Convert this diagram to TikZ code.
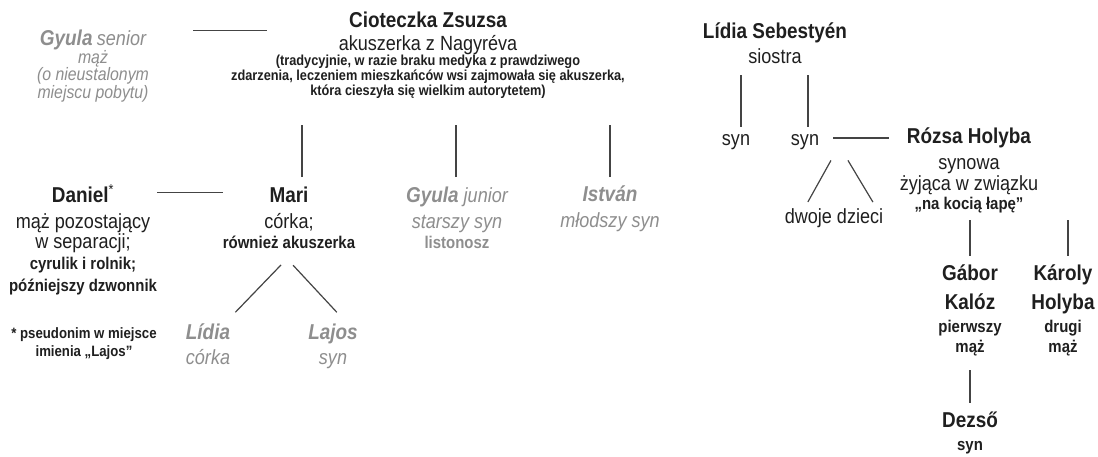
\documentclass[tikz,border=0pt]{standalone}
\usepackage{fontspec}
\setmainfont{Liberation Sans}[FakeStretch=0.88]
\usetikzlibrary{calc}

\definecolor{ink}{HTML}{1F1F1F}
\definecolor{faded}{HTML}{8E8E8E}
\definecolor{wire}{HTML}{444444}

\newcommand{\who}[1]{{\bfseries\fontsize{21.5}{22}\selectfont #1}}
\newcommand{\minor}[1]{{\bfseries\fontsize{17}{18}\selectfont #1}}
\newcommand{\aside}[1]{{\bfseries\fontsize{14.5}{15}\selectfont #1}}

\begin{document}
\begin{tikzpicture}[x=1pt, y=-1pt,
	person/.style={align=center, anchor=base, inner sep=0pt, text=ink, font=\fontsize{20.5}{22}\selectfont},
	ghost/.style={person, text=faded, font=\fontsize{20.5}{22}\selectfont\itshape},
	link/.style={draw=wire, line width=1.2pt}]
	\fill[white] (0,0) rectangle (1098,457);
	\useasboundingbox (0,0) rectangle (1098,457);
	% Nagyrév side (nodes sit on the baseline of their last line):
	\node[ghost, font=\fontsize{18}{22}\selectfont\itshape] (gyulaS) at (93,98.5) {\who{Gyula} {\fontsize{20.5}{22}\selectfont senior}\\[-4.5pt] mąż\\[-4.5pt] (o nieustalonym\\[-4.5pt] miejscu pobytu)};
	\node[person] (zsuzsa) at (428,96) {\who{Cioteczka Zsuzsa}\\[1pt] akuszerka z Nagyréva\\[-7pt] \aside{(tradycyjnie, w razie braku medyka z prawdziwego}\\[-7pt] \aside{zdarzenia, leczeniem mieszkańców wsi zajmowała się akuszerka,}\\[-7pt] \aside{która cieszyła się wielkim autorytetem)}};
	\node[person] (daniel) at (83,291) {\who{Daniel}\textsuperscript{*}\\[4pt] mąż pozostający\\[-1pt] w separacji;\\[-2pt] \minor{cyrulik i rolnik;}\\ \minor{późniejszy dzwonnik}};
	\node[person] (mari) at (289,248) {\who{Mari}\\[4pt] córka;\\[-2pt] \minor{również akuszerka}};
	\node[ghost] (gyulaJ) at (457,248) {\who{Gyula} junior\\[4pt] starszy syn\\[-2pt] \minor{\upshape listonosz}};
	\node[ghost] (istvan) at (610,228) {\who{István}\\[4pt] młodszy syn};
	\node[ghost] (lidia) at (208,364) {\who{Lídia}\\[3pt] córka};
	\node[ghost] (lajos) at (333,364) {\who{Lajos}\\[3pt] syn};
	\node[person, font=\fontsize{15}{18}\selectfont\bfseries] (footnote) at (84,356) {* pseudonim w miejsce\\ imienia „Lajos”};
	% Sebestyén side:
	\node[person] (lidiaS) at (775,64) {\who{Lídia Sebestyén}\\[3pt] siostra};
	\node[person] (syn1) at (736,146) {syn};
	\node[person] (syn2) at (805,146) {syn};
	\node[person] (dzieci) at (834,224) {dwoje dzieci};
	\node[person] (rozsa) at (969,210) {\who{Rózsa Holyba}\\[4pt] synowa\\[-1pt] żyjąca w związku\\[-3pt] \minor{„na kocią łapę”}};
	\node[person] (gabor) at (970,352) {\who{Gábor}\\[7pt] \who{Kalóz}\\[1pt] \minor{pierwszy}\\[-2pt] \minor{mąż}};
	\node[person] (karoly) at (1063,352) {\who{Károly}\\[7pt] \who{Holyba}\\[1pt] \minor{drugi}\\[-2pt] \minor{mąż}};
	\node[person] (dezso) at (970,450) {\who{Dezső}\\[1pt] \minor{syn}};
	% Marriages:
	\draw[link] ([xshift=100pt]gyulaS.north) -- ([xshift=-161pt]zsuzsa.north |- gyulaS.north);
	\draw[link] ([yshift=-6pt]daniel.east |- mari.north) -- ([yshift=-6pt]mari.west |- mari.north);
	\draw[link, shorten <=14pt, shorten >=11pt] ([yshift=8pt]syn2.base -| syn2.east) -- ([yshift=8pt]syn2.base -| rozsa.west);
	% Children:
	\draw[link, shorten <=9pt, shorten >=26pt] ([xshift=13pt]mari.north) -- ([xshift=13pt]mari.north |- zsuzsa.south);
	\draw[link, shorten <=9pt, shorten >=26pt] ([xshift=-1pt]gyulaJ.north |- mari.north) -- ([xshift=-1pt]gyulaJ.north |- zsuzsa.south);
	\draw[link, shorten <=9pt, shorten >=26pt] (istvan.north |- mari.north) -- (istvan.north |- zsuzsa.south);
	\draw[link, shorten <=23pt, shorten >=15pt] ([xshift=8pt]mari.south) -- ([xshift=17pt]lidia.north);
	\draw[link, shorten <=23pt, shorten >=15pt] ([xshift=-11.6pt]mari.south) -- ([xshift=14pt]lajos.north);
	\draw[link, shorten <=11pt, shorten >=8pt] ([xshift=5pt]syn1.north |- lidiaS.south) -- ([xshift=5pt]syn1.north);
	\draw[link, shorten <=11pt, shorten >=8pt] ([xshift=3pt]syn2.north |- lidiaS.south) -- ([xshift=3pt]syn2.north);
	\draw[link, shorten <=11.4pt, shorten >=8pt] ([xshift=31.5pt]syn2.south) -- ([xshift=-30pt]dzieci.north);
	\draw[link, shorten <=11.6pt, shorten >=8pt] ([xshift=37pt]syn2.south) -- ([xshift=43pt]dzieci.north);
	\draw[link, shorten <=6.6pt, shorten >=8pt] (gabor.north |- rozsa.south) -- (gabor.north);
	\draw[link, shorten <=6.6pt, shorten >=8pt] ([xshift=5pt]karoly.north |- rozsa.south) -- ([xshift=5pt]karoly.north);
	\draw[link, shorten <=14.6pt, shorten >=8.5pt] (gabor.south) -- (dezso.north);
\end{tikzpicture}
\end{document}
